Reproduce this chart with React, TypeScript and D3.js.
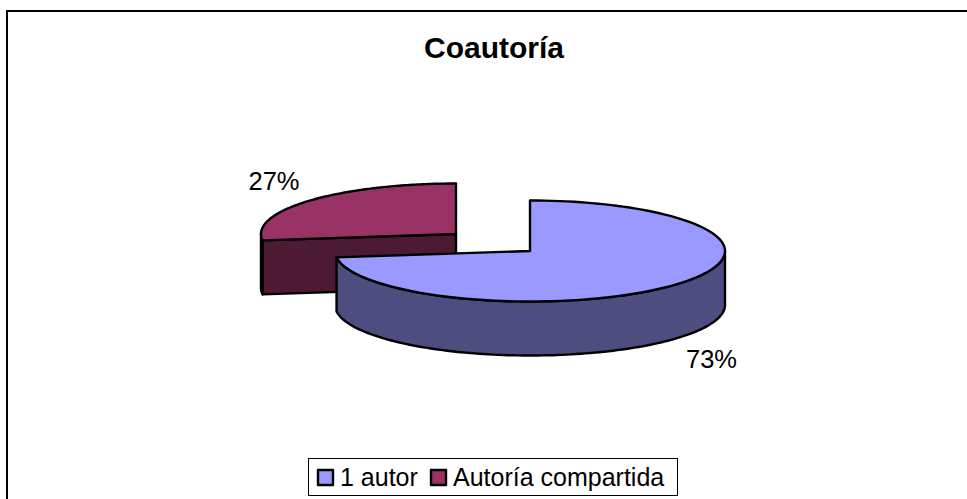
import React from "react";
import * as d3 from "d3";

const categories = ["1 autor", "Autoría compartida"];
const values = [73, 27];
const labels = ["73%", "27%"];
const topColors = ["#9999ff", "#993366"];
const sideColors = ["#4d4d80", "#4d1a33"];
const title = "Coautoría";

const W = 967, H = 499;
const RX = 195, RY = 50.5, DEPTH = 54;
const centers = [{ x: 530, y: 251 }, { x: 456, y: 234 }];

const arcs = d3.pie<number>().sort(null)(values);
const pt = (c: { x: number; y: number }, a: number, dy = 0): [number, number] => [
  c.x + RX * Math.sin(a),
  c.y - RY * Math.cos(a) + dy,
];
const line = d3.line();
const sample = (a0: number, a1: number) => d3.range(0, 121).map((i) => a0 + ((a1 - a0) * i) / 120);

function topPath(i: number) {
  const c = centers[i];
  const { startAngle, endAngle } = arcs[i];
  return line([[c.x, c.y], ...sample(startAngle, endAngle).map((a) => pt(c, a))]) + "Z";
}
// Outer wall: visible where the rim faces the viewer (PI/2..3PI/2)
function wallPath(i: number) {
  const c = centers[i];
  const a0 = Math.max(arcs[i].startAngle, Math.PI / 2);
  const a1 = Math.min(arcs[i].endAngle, (3 * Math.PI) / 2);
  const s = sample(a0, a1);
  return line([...s.map((a) => pt(c, a)), ...s.slice().reverse().map((a) => pt(c, a, DEPTH))]) + "Z";
}
// Front cut face of the exploded slice, seen from the front
function facePath(i: number) {
  const c = centers[i];
  const a = arcs[i].startAngle;
  const p = pt(c, a);
  return line([[c.x, c.y], p, [p[0], p[1] + DEPTH], [c.x, c.y + DEPTH]]) + "Z";
}
// Left rim of the exploded slice, between its cut and the widest point
function rimPath(i: number) {
  const c = centers[i];
  const s = sample(arcs[i].startAngle, (3 * Math.PI) / 2);
  return line([...s.map((a) => pt(c, a)), ...s.slice().reverse().map((a) => pt(c, a, DEPTH))]) + "Z";
}

const font = "'Liberation Sans', Arial, sans-serif";
const stroke = { stroke: "#000", strokeWidth: 2.4, strokeLinejoin: "round" as const };

export default function App() {
  return (
    <svg width={W} height={H} style={{ position: "absolute", left: 0, top: 0, background: "#fff" }}>
      <path d="M7 499V11H967" fill="none" stroke="#000" strokeWidth={2} />
      <text x={494} y={58} textAnchor="middle" fontFamily={font} fontWeight="bold" fontSize={30} fill="#000">
        {title}
      </text>

      <path d={facePath(1)} fill={sideColors[1]} {...stroke} />
      <path d={rimPath(1)} fill={sideColors[1]} {...stroke} />
      <path d={topPath(1)} fill={topColors[1]} {...stroke} />

      <path d={wallPath(0)} fill={sideColors[0]} {...stroke} />
      <path d={topPath(0)} fill={topColors[0]} {...stroke} />

      <text x={711.5} y={368} textAnchor="middle" fontFamily={font} fontSize={25.5} fill="#000">{labels[0]}</text>
      <text x={274} y={190} textAnchor="middle" fontFamily={font} fontSize={25.5} fill="#000">{labels[1]}</text>

      <rect x={308.5} y={458.5} width={369} height={37} fill="#fff" stroke="#000" strokeWidth={1} />
      <rect x={318} y={470} width={15} height={15} fill={topColors[0]} {...stroke} />
      <text x={340} y={486} fontFamily={font} fontSize={25} fill="#000">{categories[0]}</text>
      <rect x={431} y={470} width={15} height={15} fill={topColors[1]} {...stroke} />
      <text x={453} y={486} fontFamily={font} fontSize={25} fill="#000">{categories[1]}</text>
    </svg>
  );
}
